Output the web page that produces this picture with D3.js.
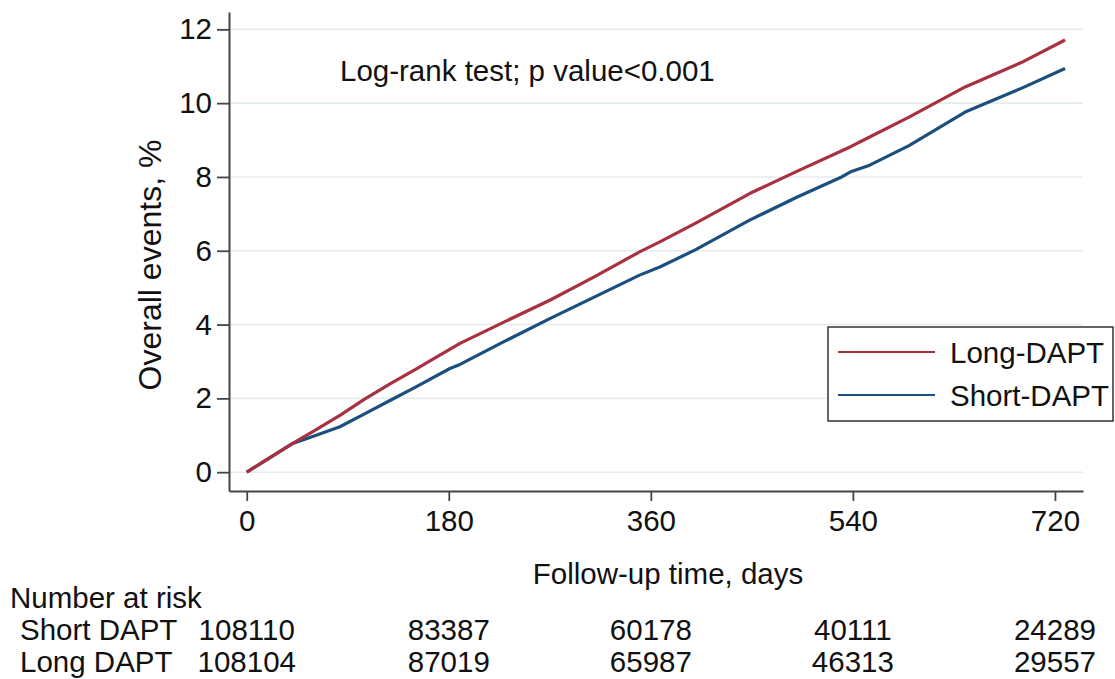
<!DOCTYPE html>
<html><head><meta charset="utf-8">
<script src="https://cdn.jsdelivr.net/npm/d3@7"></script>
<style>html,body{margin:0;padding:0;background:#fff;}svg{display:block;}text{font-family:"Liberation Sans",Arial,sans-serif;fill:#111;}</style>
</head><body>
<svg id="c" width="1115" height="679"></svg>
<script>
// ---- data ----
const longDays  = [0, 20, 41, 60, 83, 105, 128, 150, 172, 190, 230, 270, 310, 350, 368, 400, 448, 490, 538, 547, 590, 640, 690, 729];
const longVals  = [0, 0.38, 0.78, 1.12, 1.54, 1.98, 2.40, 2.78, 3.17, 3.49, 4.08, 4.66, 5.30, 5.97, 6.24, 6.75, 7.55, 8.15, 8.82, 8.96, 9.62, 10.44, 11.10, 11.71];
const shortDays = [0, 20, 41, 60, 83, 105, 128, 150, 181, 190, 230, 270, 310, 350, 368, 400, 448, 490, 530, 538, 555, 590, 640, 690, 729];
const shortVals = [0, 0.38, 0.78, 0.98, 1.23, 1.58, 1.95, 2.30, 2.81, 2.92, 3.55, 4.16, 4.75, 5.34, 5.56, 6.03, 6.83, 7.45, 8.00, 8.14, 8.32, 8.85, 9.76, 10.40, 10.94];
const xTicks = [0, 180, 360, 540, 720];
const yTicks = [0, 2, 4, 6, 8, 10, 12];
const riskTimes = [0, 180, 360, 540, 720];
const riskShort = [108110, 83387, 60178, 40111, 24289];
const riskLong  = [108104, 87019, 65987, 46313, 29557];
const seriesNames = ["Long-DAPT", "Short-DAPT"];
const seriesColors = ["#a8303f", "#1c4f7e"];

const svg = d3.select("#c");
const x = d3.scaleLinear().domain([-15.8, 745]).range([229, 1083]);
const y = d3.scaleLinear().domain([-0.51, 12.47]).range([491, 12]);
const FS = 29.5;

// gridlines
svg.append("g").selectAll("line").data(yTicks).join("line")
  .attr("x1", x.range()[0]).attr("x2", x.range()[1])
  .attr("y1", d => y(d)).attr("y2", d => y(d))
  .attr("stroke", "#e5ecef").attr("stroke-width", 1.6);

// axes
const yAxis = svg.append("g").attr("transform", `translate(${x.range()[0]},0)`)
  .call(d3.axisLeft(y).tickValues(yTicks).tickSize(12).tickSizeOuter(0).tickPadding(5));
const xAxis = svg.append("g").attr("transform", `translate(0,${y.range()[0]})`)
  .call(d3.axisBottom(x).tickValues(xTicks).tickSize(10).tickSizeOuter(0).tickPadding(9));
[yAxis, xAxis].forEach(g => {
  g.selectAll("path.domain").attr("stroke", "#444").attr("stroke-width", 2);
  g.selectAll(".tick line").attr("stroke", "#444").attr("stroke-width", 1.8);
  g.selectAll(".tick text").attr("font-size", FS).attr("fill", "#111")
    .attr("font-family", '"Liberation Sans",Arial,sans-serif');
});

// curves
const line = d3.line().x(d => x(d[0])).y(d => y(d[1]));
const longData = longDays.map((d, i) => [d, longVals[i]]);
const shortData = shortDays.map((d, i) => [d, shortVals[i]]);
svg.append("path").datum(shortData).attr("d", line).attr("fill", "none")
  .attr("stroke", seriesColors[1]).attr("stroke-width", 3.2).attr("stroke-linejoin", "round");
svg.append("path").datum(longData).attr("d", line).attr("fill", "none")
  .attr("stroke", seriesColors[0]).attr("stroke-width", 3.2).attr("stroke-linejoin", "round");

// annotation
svg.append("text").attr("x", 340).attr("y", 81).attr("font-size", FS).text("Log-rank test; p value<0.001");

// axis titles
svg.append("text").attr("transform", "translate(161,265) rotate(-90)").attr("text-anchor", "middle")
  .attr("font-size", 32).text("Overall events, %");
svg.append("text").attr("x", 668).attr("y", 584).attr("text-anchor", "middle")
  .attr("font-size", FS).text("Follow-up time, days");

// legend
const lg = svg.append("g");
lg.append("rect").attr("x", 828).attr("y", 327).attr("width", 285).attr("height", 94)
  .attr("fill", "#fff").attr("stroke", "#333").attr("stroke-width", 1.5);
seriesNames.forEach((n, i) => {
  const yy = 352 + i * 43;
  lg.append("line").attr("x1", 838).attr("x2", 935).attr("y1", yy).attr("y2", yy)
    .attr("stroke", seriesColors[i]).attr("stroke-width", 2.2);
  lg.append("text").attr("x", 950).attr("y", yy + 11).attr("font-size", FS).text(n);
});

// risk table
svg.append("text").attr("x", 10).attr("y", 608).attr("font-size", FS).text("Number at risk");
const rows = [["Short DAPT", riskShort], ["Long DAPT", riskLong]];
rows.forEach((r, i) => {
  const yy = 640 + i * 32;
  svg.append("text").attr("x", 20).attr("y", yy).attr("font-size", FS).text(r[0]);
  svg.append("g").selectAll("text").data(r[1]).join("text")
    .attr("x", (d, j) => x(riskTimes[j])).attr("y", yy)
    .attr("text-anchor", "middle").attr("font-size", FS).text(d => d);
});
</script>
</body></html>
